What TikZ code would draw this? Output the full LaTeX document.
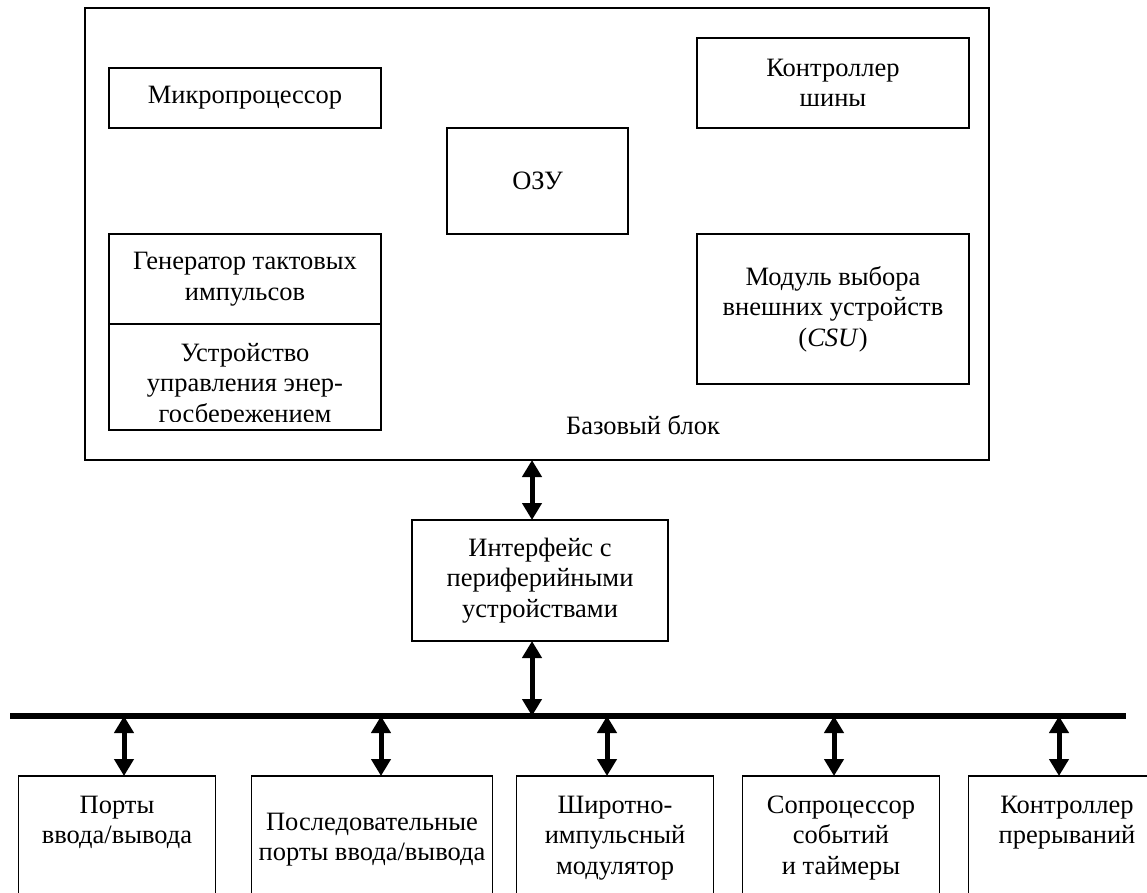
\documentclass[tikz,border=0pt]{standalone}
\usepackage{fontspec}
\setmainfont{Liberation Serif}
\usetikzlibrary{arrows.meta, positioning}

\begin{document}
\begin{tikzpicture}[
    x=1pt, y=-1pt,
    every node/.style={font=\fontsize{26.5}{30.5}\selectfont},
    unit/.style={draw, line width=1.8pt, outer sep=0pt, align=center,
                 minimum width=272pt},
    % text height = distance from the top to the last baseline
    periph/.style={draw, line width=1.8pt, outer sep=0pt, align=center,
                   inner sep=2pt, minimum width=197pt,
                   text height=#1, text depth=100pt},
    periph/.default=65.5pt,
    biarrow/.style={{Triangle[width=19pt,length=17pt]}-{Triangle[width=19pt,length=17pt]},
                    line width=5pt},
    bus/.style={line width=6pt},
  ]
  \clip (0,0) rectangle (1147,893);

  % base block
  \node[draw, line width=1.8pt, outer sep=0pt, minimum width=904pt,
        minimum height=452pt] (base) at (537,234) {};
  \node (baselbl) at (643,425) {Базовый блок};

  \node[unit, minimum height=60pt] (cpu) at (245,98) {Микропроцессор};
  \node[unit, minimum width=181pt, minimum height=106pt] (ram) at (537.5,181) {ОЗУ};
  \node[unit, minimum height=90pt] (busctl) at (833,83) {Контроллер\\шины};
  \node[unit, minimum height=150pt] (csu) at (833,309)
    {Модуль выбора\\внешних устройств\\(\textit{CSU})};
  \node[unit, minimum height=90pt] (clk) at (245,279) {Генератор тактовых\\импульсов};
  \node[unit, minimum height=106pt, below=0pt of clk] (pwr) {};

  % last line of the power unit is cut by its frame
  \begin{scope}
    \clip (pwr.north west) rectangle ([yshift=9pt]pwr.south east);
    \node[align=center, inner sep=0pt, anchor=base] (pwrtext) at (245,422)
      {Устройство\\управления энер-\\госбережением};
  \end{scope}

  % peripheral interface
  \node[draw, line width=1.8pt, outer sep=0pt, align=center, minimum width=256pt,
        minimum height=121pt] (iface) at (540,580.5)
    {Интерфейс с\\периферийными\\устройствами};

  % peripheral bus
  \coordinate (busL) at (10,716);
  \coordinate (busR) at (1126,716);
  \draw[bus] (busL) -- (busR);

  % peripheral units
  \node[periph, anchor=north] (ports) at (117,776) {Порты\\ввода/вывода};
  \node[periph=82.5pt, minimum width=241pt,
        right=36pt of ports.north east, anchor=north west] (serial)
    {Последовательные\\порты ввода/вывода};
  \node[periph=96pt, right=24pt of serial.north east, anchor=north west] (pwm)
    {Широтно-\\импульсный\\модулятор};
  \node[periph=96pt, right=29pt of pwm.north east, anchor=north west] (coproc)
    {Сопроцессор\\событий\\и таймеры};
  \node[periph, right=29pt of coproc.north east, anchor=north west] (intctl)
    {Контроллер\\прерываний};

  % links
  \coordinate (up) at ([xshift=-8pt]iface.north);
  \coordinate (dn) at ([xshift=-8pt]iface.south);
  \draw[biarrow] (up |- base.south) -- (up);
  \draw[biarrow] (dn) -- (dn |- busL);

  \coordinate (tap1) at ([xshift=7pt]ports.north);
  \coordinate (tap2) at ([xshift=9pt]serial.north);
  \coordinate (tap3) at ([xshift=-8pt]pwm.north);
  \coordinate (tap4) at ([xshift=-7pt]coproc.north);
  \coordinate (tap5) at ([xshift=-8pt]intctl.north);
  \draw[biarrow] (tap1 |- busL) -- (tap1);
  \draw[biarrow] (tap2 |- busL) -- (tap2);
  \draw[biarrow] (tap3 |- busL) -- (tap3);
  \draw[biarrow] (tap4 |- busL) -- (tap4);
  \draw[biarrow] (tap5 |- busL) -- (tap5);
\end{tikzpicture}
\end{document}
